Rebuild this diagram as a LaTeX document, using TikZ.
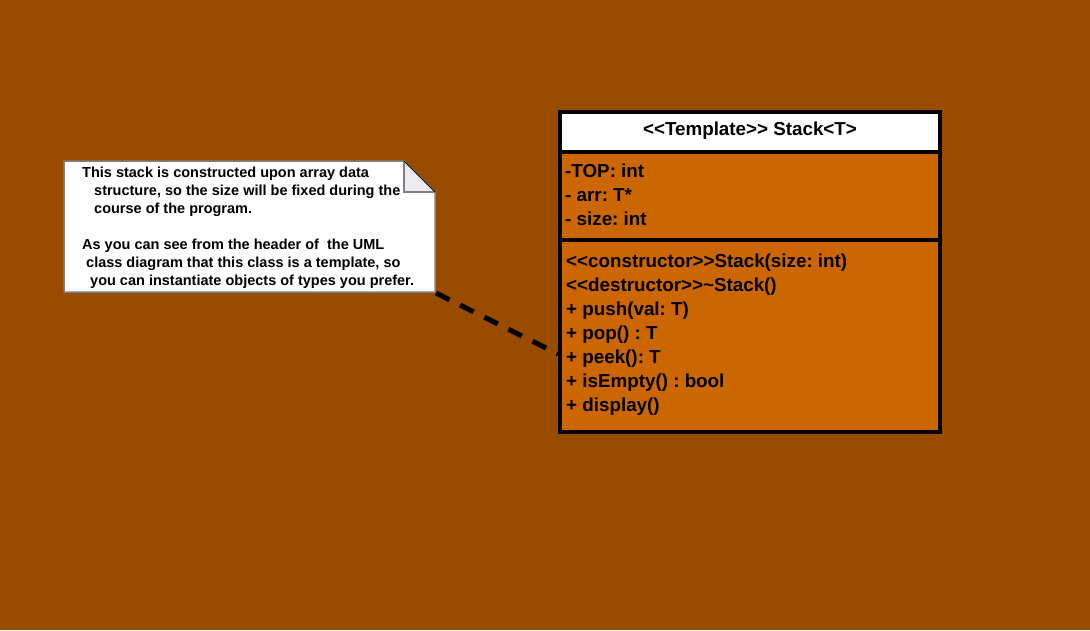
\documentclass[tikz,border=0pt]{standalone}
\usepackage{fontspec}
\setmainfont{Liberation Sans}
\frenchspacing
\definecolor{bgc}{RGB}{153,76,0}
\definecolor{clsfill}{RGB}{204,102,0}
\definecolor{foldc}{RGB}{236,236,240}
\definecolor{notebd}{RGB}{128,128,128}
\newcommand{\ltlt}{<\kern0pt<}
\newcommand{\gtgt}{>\kern0pt>}
\begin{document}
\begin{tikzpicture}[x=1pt,y=-1pt,
  clsfont/.style={inner sep=0pt,font=\fontsize{18.8}{18.8}\selectfont\bfseries},
  clstext/.style={clsfont,anchor=west},
  notetext/.style={anchor=west,inner sep=0pt,font=\fontsize{14.5}{14.5}\selectfont\bfseries},
  border/.style={draw=black,line width=4pt},
  dashlink/.style={line width=5pt,dash pattern=on 15pt off 12pt}]
\useasboundingbox[fill=bgc] (0,0) rectangle (1090,630);
% class box
\coordinate (c1) at (560,112);
\coordinate (c2) at (940,432);
\coordinate (h1) at (562,114);
\coordinate (h2) at (938,152);
\fill[clsfill] (c1) rectangle (c2);
\fill[white] (h1) rectangle (h2);
\coordinate (s1l) at (560,152);
\coordinate (s1r) at (940,152);
\coordinate (s2l) at (560,240);
\coordinate (s2r) at (940,240);
\draw[border] (s1l) -- (s1r);
\draw[border] (s2l) -- (s2r);
\draw[border] (c1) rectangle (c2);
\node[clsfont] (title) at (750,131) {\ltlt Template\gtgt{} Stack<T>};
\node[clstext] (a1) at (565,171) {-TOP: int};
\node[clstext] (a2) at (565,195) {- arr: T*};
\node[clstext] (a3) at (565,219) {- size: int};
\node[clstext] (m1) at (566,263) {\ltlt constructor\gtgt Stack(size: int)};
\node[clstext] (m2) at (566,287) {\ltlt destructor\gtgt\textasciitilde Stack()};
\node[clstext] (m3) at (566,311) {+ push(val: T)};
\node[clstext] (m4) at (566,335) {+ pop() : T};
\node[clstext] (m5) at (566,359) {+ peek(): T};
\node[clstext] (m6) at (566,383) {+ isEmpty() : bool};
\node[clstext] (m7) at (566,407) {+ display()};
% note
\coordinate (n1) at (64,161);
\coordinate (n2) at (404,161);
\coordinate (n3) at (435,192);
\coordinate (n4) at (435,292);
\coordinate (n5) at (64,292);
\coordinate (f1) at (404,192);
\fill[white,draw=notebd,line width=1.5pt] (n1) -- (n2) -- (n3) -- (n4) -- (n5) -- cycle;
\fill[foldc,draw=notebd,line width=1.5pt] (n2) -- (f1) -- (n3);
\draw[black,line width=1pt] (n2) -- (n3);
\node[notetext] (t1) at (82,174) {This stack is constructed upon array data};
\node[notetext] (t2) at (94,192) {structure, so the size will be fixed during the};
\node[notetext] (t3) at (94,210) {course of the program.};
\node[notetext] (t4) at (82,246) {As you can see from the header of\ \ the UML};
\node[notetext] (t5) at (86,264) {class diagram that this class is a template, so};
\node[notetext] (t6) at (90,282) {you can instantiate objects of types you prefer.};
\coordinate (la) at (436,293);
\coordinate (lb) at (558,354);
\draw[dashlink] (la) -- (lb);
\end{tikzpicture}
\end{document}
